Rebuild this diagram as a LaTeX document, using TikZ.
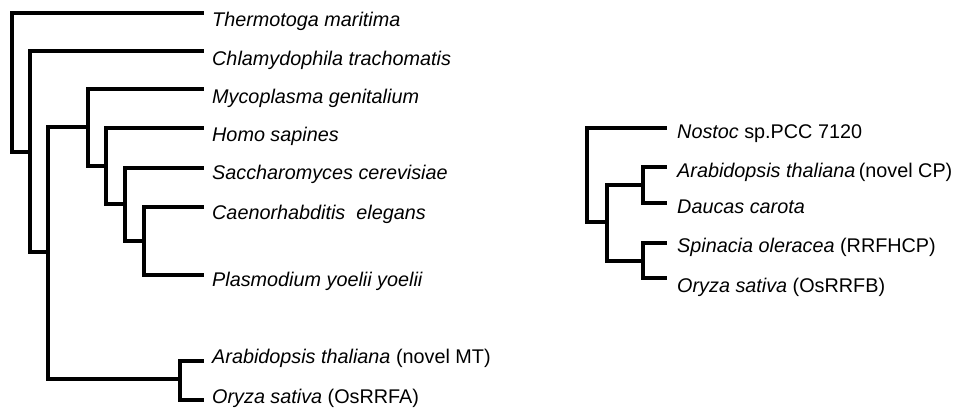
\documentclass[tikz,border=0pt]{standalone}
\usepackage{fontspec}
\setmainfont{Liberation Sans}
\begin{document}
\begin{tikzpicture}[x=1pt,y=-1pt,
  branch/.style={line width=3.3pt,line cap=rect,line join=miter},
  taxon/.style={anchor=base west,inner sep=0pt,font=\fontsize{19.8}{22}\selectfont\itshape}]
\path[use as bounding box] (0,0) rectangle (958,408);
% ---------- left tree: internal nodes ----------
\coordinate (root) at (12,80);
\coordinate (n7) at (30,152);
\coordinate (n6) at (48,252);
\coordinate (n4) at (88,127);
\coordinate (n3) at (106,166);
\coordinate (n2) at (125,204);
\coordinate (n1) at (144,241);
\coordinate (n5) at (180,379);
% leaf ends
\coordinate (lThe) at (202,13);
\coordinate (lChl) at (202,51);
\coordinate (lMyc) at (202,89);
\coordinate (lHom) at (202,128);
\coordinate (lSac) at (202,168);
\coordinate (lCae) at (202,207);
\coordinate (lPla) at (202,275);
\coordinate (lAra) at (202,361);
\coordinate (lOry) at (202,400);
% labels
\node[taxon] (tThe) at (212,26) {Thermotoga maritima};
\node[taxon] (tChl) at (212,65) {Chlamydophila trachomatis};
\node[taxon] (tMyc) at (212,103) {Mycoplasma genitalium};
\node[taxon] (tHom) at (212,141) {Homo sapines};
\node[taxon] (tSac) at (212,179) {Saccharomyces cerevisiae};
\node[taxon] (tCae) at (212,219) {Caenorhabditis\ \ elegans};
\node[taxon] (tPla) at (212,286) {Plasmodium yoelii yoelii};
\node[taxon] (tAra) at (212,363) {Arabidopsis thaliana \upshape(novel MT)};
\node[taxon] (tOry) at (212,403) {Oryza sativa \upshape(OsRRFA)};
% branches
\draw[branch] (root) |- (lThe);
\draw[branch] (root) |- (n7);
\draw[branch] (n7) |- (lChl);
\draw[branch] (n7) |- (n6);
\draw[branch] (n6) |- (n4);
\draw[branch] (n6) |- (n5);
\draw[branch] (n4) |- (lMyc);
\draw[branch] (n4) |- (n3);
\draw[branch] (n3) |- (lHom);
\draw[branch] (n3) |- (n2);
\draw[branch] (n2) |- (lSac);
\draw[branch] (n2) |- (n1);
\draw[branch] (n1) |- (lCae);
\draw[branch] (n1) |- (lPla);
\draw[branch] (n5) |- (lAra);
\draw[branch] (n5) |- (lOry);
% ---------- right tree ----------
\coordinate (rroot) at (587,175);
\coordinate (r1) at (607,222);
\coordinate (r2) at (643,185);
\coordinate (r3) at (643,261);
\coordinate (lNos) at (665,128);
\coordinate (lAra2) at (665,167);
\coordinate (lDau) at (665,203);
\coordinate (lSpi) at (665,243);
\coordinate (lOry2) at (665,278);
\node[taxon] (tNos) at (677,138) {Nostoc \upshape sp.PCC 7120};
\node[taxon] (tAra2) at (677,177) {Arabidopsis thaliana\,\upshape(novel CP)};
\node[taxon] (tDau) at (677,213) {Daucas carota};
\node[taxon] (tSpi) at (677,252) {Spinacia oleracea \upshape(RRFHCP)};
\node[taxon] (tOry2) at (677,292) {Oryza sativa \upshape(OsRRFB)};
\draw[branch] (rroot) |- (lNos);
\draw[branch] (rroot) |- (r1);
\draw[branch] (r1) |- (r2);
\draw[branch] (r1) |- (r3);
\draw[branch] (r2) |- (lAra2);
\draw[branch] (r2) |- (lDau);
\draw[branch] (r3) |- (lSpi);
\draw[branch] (r3) |- (lOry2);
\end{tikzpicture}
\end{document}
